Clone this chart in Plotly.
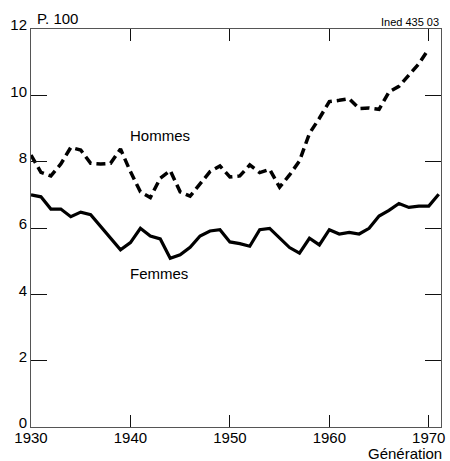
import plotly.graph_objects as go

# Générations 1930-1971, taux en p. 100
years_f = list(range(1930, 1972))
femmes = [7.00, 6.94, 6.57, 6.57, 6.34, 6.48, 6.40, 6.05, 5.69, 5.34,
          5.56, 5.99, 5.76, 5.67, 5.09, 5.19, 5.42, 5.76, 5.91, 5.95,
          5.58, 5.53, 5.45, 5.95, 5.99, 5.69, 5.41, 5.24, 5.69, 5.49,
          5.95, 5.82, 5.87, 5.82, 5.99, 6.36, 6.53, 6.74, 6.62, 6.66,
          6.66, 7.02]

years_h = list(range(1930, 1971))
hommes = [8.20, 7.68, 7.57, 7.93, 8.43, 8.35, 7.95, 7.93, 7.95, 8.38,
          7.70, 7.09, 6.92, 7.50, 7.73, 7.09, 6.96, 7.35, 7.70, 7.87,
          7.54, 7.57, 7.90, 7.67, 7.77, 7.23, 7.60, 8.02, 8.85, 9.31,
          9.81, 9.85, 9.90, 9.60, 9.62, 9.58, 10.10, 10.27, 10.60, 10.95,
          11.40]

x_ticks = [1930, 1940, 1950, 1960, 1970]
y_ticks = [0, 2, 4, 6, 8, 10, 12]

FONT = "Liberation Sans, Arial, Helvetica, sans-serif"

fig = go.Figure()

fig.add_trace(go.Scatter(
    x=years_h, y=hommes, mode="lines", name="Hommes",
    line=dict(color="black", width=3.5, dash="9px,5px"),
))
fig.add_trace(go.Scatter(
    x=years_f, y=femmes, mode="lines", name="Femmes",
    line=dict(color="black", width=3.2),
))

fig.update_xaxes(
    range=[1930, 1971.23], tickvals=x_ticks,
    showline=True, linecolor="#555", linewidth=1, mirror="ticks",
    ticks="inside", ticklen=12, tickcolor="#111", tickwidth=1,
    showgrid=False, zeroline=False, ticklabelstandoff=-3,
    tickfont=dict(size=15, color="black", family=FONT),
)
fig.update_yaxes(
    range=[0, 12], tickvals=y_ticks,
    showline=True, linecolor="#555", linewidth=1, mirror="ticks",
    ticks="inside", ticklen=16, tickcolor="#111", tickwidth=1,
    showgrid=False, zeroline=False, ticklabelshift=-4,
    tickfont=dict(size=15, color="black", family=FONT),
)

fig.add_annotation(x=1939.76, y=8.80, text="Hommes", showarrow=False,
                   xanchor="left", yanchor="middle", font=dict(size=15, family=FONT, color="black"))
fig.add_annotation(x=1939.76, y=4.64, text="Femmes", showarrow=False,
                   xanchor="left", yanchor="middle", font=dict(size=15, family=FONT, color="black"))
fig.add_annotation(xref="paper", yref="paper", x=0, y=1, xshift=4, yshift=11,
                   text="P. 100", showarrow=False, xanchor="left", yanchor="middle",
                   font=dict(size=15, family=FONT, color="black"))
fig.add_annotation(xref="paper", yref="paper", x=1, y=1, xshift=0, yshift=7,
                   text="Ined 435 03", showarrow=False, xanchor="right", yanchor="middle",
                   font=dict(size=11, family=FONT, color="black"))
fig.add_annotation(xref="paper", yref="paper", x=1, y=0, xshift=3, yshift=-26,
                   text="Génération", showarrow=False, xanchor="right", yanchor="middle",
                   font=dict(size=15, family=FONT, color="black"))

fig.update_layout(
    width=450, height=461,
    margin=dict(l=31, r=5, t=29, b=34),
    paper_bgcolor="white", plot_bgcolor="white",
    showlegend=False,
    font=dict(family=FONT, color="black"),
)

fig.write_html(
    "out.html",
    config={"displayModeBar": False},
    post_script="document.body.style.margin='0px';document.body.style.overflow='hidden';",
)
